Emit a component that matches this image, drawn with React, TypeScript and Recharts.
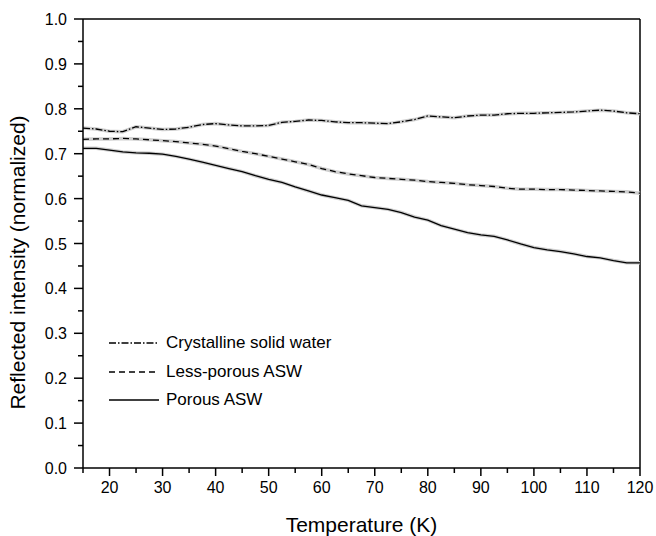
import { Legend, Line, LineChart, ReferenceLine, XAxis, YAxis } from "recharts";

const temperatures = [
  15, 17.5, 20, 22.5, 25, 27.5, 30, 32.5, 35, 37.5, 40, 42.5, 45, 47.5, 50, 52.5, 55, 57.5, 60,
  62.5, 65, 67.5, 70, 72.5, 75, 77.5, 80, 82.5, 85, 87.5, 90, 92.5, 95, 97.5, 100, 102.5, 105,
  107.5, 110, 112.5, 115, 117.5, 120,
];

const crystalline = [
  0.757, 0.755, 0.75, 0.749, 0.76, 0.757, 0.754, 0.755, 0.759, 0.765, 0.767, 0.764, 0.762, 0.762,
  0.763, 0.77, 0.772, 0.775, 0.774, 0.771, 0.769, 0.769, 0.768, 0.767, 0.771, 0.776, 0.784, 0.782,
  0.78, 0.784, 0.786, 0.786, 0.789, 0.79, 0.79, 0.791, 0.792, 0.793, 0.795, 0.797, 0.795, 0.791,
  0.789,
];

const lessPorous = [
  0.732, 0.733, 0.733, 0.734, 0.733, 0.731, 0.729, 0.727, 0.724, 0.721, 0.717, 0.711, 0.705, 0.7,
  0.694, 0.688, 0.682, 0.676, 0.667, 0.66, 0.655, 0.651, 0.647, 0.645, 0.643, 0.641, 0.638, 0.636,
  0.634, 0.631, 0.629, 0.627, 0.623, 0.621, 0.621, 0.62, 0.62, 0.619, 0.618, 0.617, 0.616, 0.615,
  0.612,
];

const porous = [
  0.712, 0.712, 0.708, 0.704, 0.702, 0.701, 0.699, 0.694, 0.688, 0.681, 0.674, 0.667, 0.66, 0.651,
  0.643, 0.636, 0.626, 0.617, 0.608, 0.602, 0.596, 0.584, 0.58, 0.576, 0.569, 0.559, 0.552, 0.54,
  0.532, 0.524, 0.519, 0.516, 0.508, 0.499, 0.491, 0.486, 0.482, 0.477, 0.471, 0.468, 0.462, 0.457,
  0.457,
];

const xTicks = [15, 20, 25, 30, 35, 40, 45, 50, 55, 60, 65, 70, 75, 80, 85, 90, 95, 100, 105, 110, 115, 120];
const yTicks = [
  0, 0.05, 0.1, 0.15, 0.2, 0.25, 0.3, 0.35, 0.4, 0.45, 0.5, 0.55, 0.6, 0.65, 0.7, 0.75, 0.8, 0.85,
  0.9, 0.95, 1,
];

const series = [
  { key: "crystalline", name: "Crystalline solid water", dash: "7 2 1.5 2" },
  { key: "lessPorous", name: "Less-porous ASW", dash: "6 4" },
  { key: "porous", name: "Porous ASW", dash: undefined as string | undefined },
];

const data = temperatures.map((t, i) => ({
  t,
  crystalline: crystalline[i],
  lessPorous: lessPorous[i],
  porous: porous[i],
}));

const FONT = '"Liberation Sans", Arial, sans-serif';

function XTick(props: any) {
  const { x, y, payload } = props;
  const v = payload.value as number;
  const major = v % 10 === 0;
  return (
    <g>
      <line x1={x} x2={x} y1={y} y2={y + (major ? 8 : 5)} stroke="#000" strokeWidth={1.5} />
      {major && (
        <text x={x} y={y + 25} textAnchor="middle" fontSize={16} fontFamily={FONT} fill="#000">
          {v}
        </text>
      )}
    </g>
  );
}

function YTick(props: any) {
  const { x, y, payload } = props;
  const v = payload.value as number;
  const major = Math.round(v * 100) % 10 === 0;
  return (
    <g>
      <line x1={x - (major ? 9 : 5)} x2={x} y1={y} y2={y} stroke="#000" strokeWidth={1.5} />
      {major && (
        <text x={x - 16} y={y + 6} textAnchor="end" fontSize={16} fontFamily={FONT} fill="#000">
          {v.toFixed(1)}
        </text>
      )}
    </g>
  );
}

// rotated y title, placed against the left edge of the axis area
function YTitle(props: any) {
  const vb = props.viewBox ?? { x: 0, y: 19, width: 83, height: 449 };
  const cx = vb.x + 25;
  const cy = vb.y + vb.height / 2 + 19;
  return (
    <text
      x={cx}
      y={cy}
      transform={`rotate(-90, ${cx}, ${cy})`}
      textAnchor="middle"
      fontSize={21}
      fontFamily={FONT}
      fill="#000"
    >
      Reflected intensity (normalized)
    </text>
  );
}

function LegendBox() {
  return (
    <div style={{ fontFamily: FONT, fontSize: 17, color: "#000" }}>
      {series.map((s) => (
        <div key={s.key} style={{ display: "flex", alignItems: "center", height: 28.5 }}>
          <svg width={50} height={4} style={{ marginRight: 7 }}>
            <line x1={0} x2={50} y1={2} y2={2} stroke="#000" strokeWidth={1.3} strokeDasharray={s.dash} />
          </svg>
          <span>{s.name}</span>
        </div>
      ))}
    </div>
  );
}

export default function App() {
  return (
    <div style={{ position: "absolute", left: 0, top: 0, width: 656, height: 536, background: "#fff" }}>
      <LineChart width={656} height={536} data={data} margin={{ top: 19, right: 16, left: 0, bottom: 0 }}>
        <XAxis
          dataKey="t"
          type="number"
          domain={[15, 120]}
          ticks={xTicks}
          interval={0}
          tick={<XTick />}
          tickLine={false}
          tickSize={0}
          tickMargin={0}
          height={68}
          axisLine={{ stroke: "#000", strokeWidth: 1.5 }}
          label={{
            value: "Temperature (K)",
            position: "insideBottom",
            offset: 4,
            fontSize: 21,
            fontFamily: FONT,
            fill: "#000",
          }}
        />
        <YAxis
          type="number"
          domain={[0, 1]}
          ticks={yTicks}
          interval={0}
          tick={<YTick />}
          tickLine={false}
          tickSize={0}
          tickMargin={0}
          width={83}
          axisLine={{ stroke: "#000", strokeWidth: 1.5 }}
          label={<YTitle />}
        />
        <ReferenceLine y={1} stroke="#000" strokeWidth={1.5} />
        <ReferenceLine x={120} stroke="#000" strokeWidth={1.5} />
        {series.map((s) => (
          <Line
            key={`${s.key}-halo`}
            dataKey={s.key}
            stroke="#cfcfcf"
            strokeWidth={3.5}
            dot={false}
            legendType="none"
            type="linear"
            isAnimationActive={false}
          />
        ))}
        {series.map((s) => (
          <Line
            key={s.key}
            dataKey={s.key}
            name={s.name}
            stroke="#000"
            strokeWidth={1.3}
            strokeDasharray={s.dash}
            dot={false}
            type="linear"
            isAnimationActive={false}
          />
        ))}
        <Legend
          layout="vertical"
          align="center"
          verticalAlign="middle"
          content={() => <LegendBox />}
          wrapperStyle={{ left: 109, top: 329, width: 300, height: 86 }}
        />
      </LineChart>
    </div>
  );
}
